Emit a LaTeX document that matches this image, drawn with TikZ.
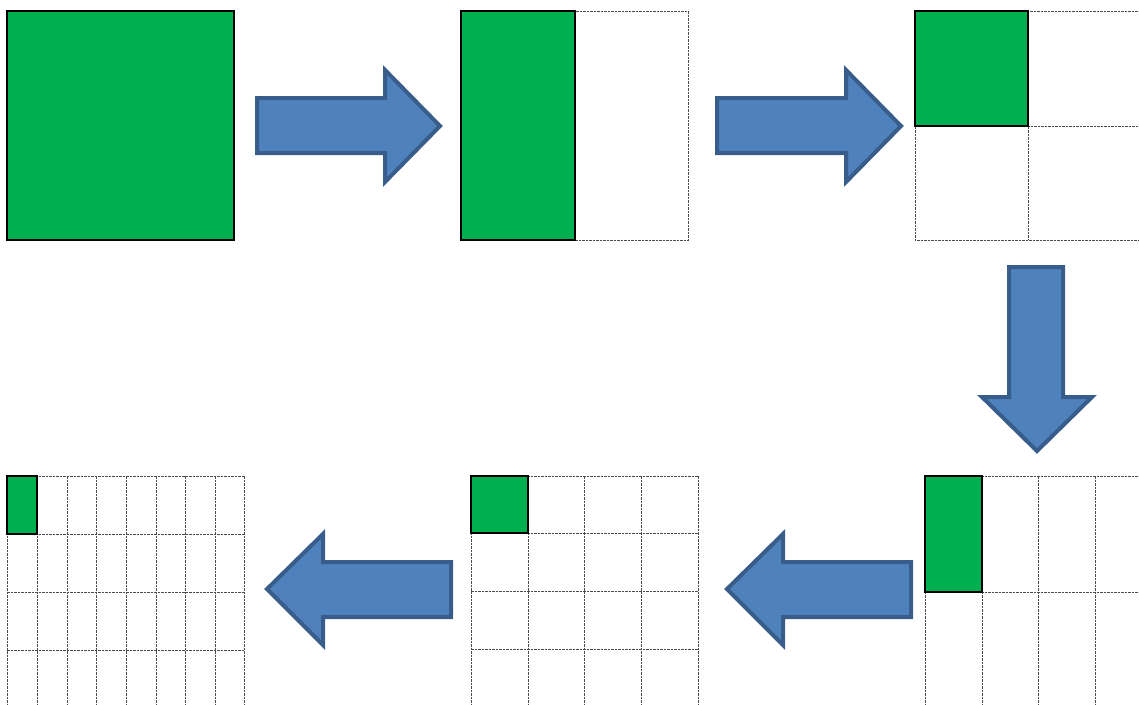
\documentclass[tikz,border=0pt]{standalone}
\usepackage{tikz}
\definecolor{pgreen}{HTML}{00B050}
\definecolor{afill}{HTML}{4F81BD}
\definecolor{aline}{HTML}{385D8A}
\tikzset{
  gridline/.style={draw=black!70, line width=0.9pt, dash pattern=on 2.5pt off 1pt},
  greenbox/.style={fill=pgreen, draw=black, line width=2.2pt},
  blockarrow/.style={fill=afill, draw=aline, line width=4pt, line join=miter},
}
\begin{document}
\begin{tikzpicture}[x=1pt,y=-1pt]
\useasboundingbox (0,0) rectangle (1139,704);
\clip (0,0) rectangle (1139,704);
% Panel 1
\draw[greenbox] (7,11) rectangle (234,240);
% Panel 2
\draw[gridline] (461,11) rectangle (688,240);
\draw[greenbox] (461,11) rectangle (575,240);
% Panel 3
\draw[gridline] (915,11) rectangle (1142,240);
\draw[gridline] (1028,11) -- (1028,240);
\draw[gridline] (915,126) -- (1142,126);
\draw[greenbox] (915,11) rectangle (1028,126);
% Panel 4 (bottom right)
\foreach \x in {925,982,1038,1095,1152} \draw[gridline] (\x,476) -- (\x,710);
\foreach \y in {476,592} \draw[gridline] (925,\y) -- (1152,\y);
\draw[greenbox] (925,476) rectangle (982,592);
% Panel 5 (bottom middle)
\foreach \x in {471,528,584,641,698} \draw[gridline] (\x,476) -- (\x,710);
\foreach \y in {476,533,591,649} \draw[gridline] (471,\y) -- (698,\y);
\draw[greenbox] (471,476) rectangle (528,533);
% Panel 6 (bottom left)
\foreach \x in {7,37,67,96,126,156,185,215,244} \draw[gridline] (\x,476) -- (\x,710);
\foreach \y in {476,534,592,650} \draw[gridline] (7,\y) -- (244,\y);
\draw[greenbox] (7,476) rectangle (37,534);
% Arrows
\draw[blockarrow] (257,98) -- (385,98) -- (385,70) -- (440,126) -- (385,182) -- (385,153) -- (257,153) -- cycle;
\draw[blockarrow] (717,98) -- (846,98) -- (846,70) -- (901,126) -- (846,182) -- (846,153) -- (717,153) -- cycle;
\draw[blockarrow] (1009,267) -- (1063,267) -- (1063,397) -- (1092,397) -- (1037,451) -- (982,397) -- (1009,397) -- cycle;
\draw[blockarrow] (911,562) -- (783,562) -- (783,534) -- (727,589) -- (783,645) -- (783,617) -- (911,617) -- cycle;
\draw[blockarrow] (451,562) -- (323,562) -- (323,534) -- (267,589) -- (323,645) -- (323,617) -- (451,617) -- cycle;
\end{tikzpicture}
\end{document}
